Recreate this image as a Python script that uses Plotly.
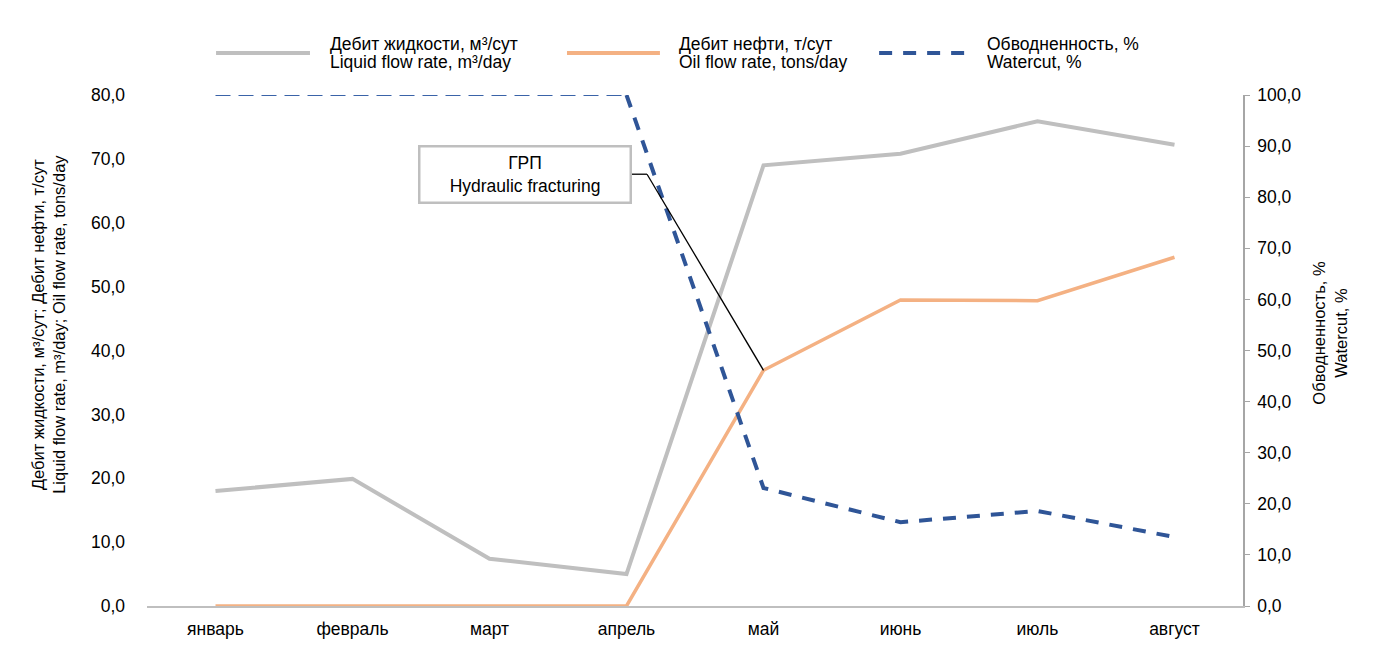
import plotly.graph_objects as go

months = ["январь", "февраль", "март", "апрель", "май", "июнь", "июль", "август"]
liquid_rate = [18.0, 19.9, 7.4, 5.0, 69.0, 70.8, 75.9, 72.2]
oil_rate = [0.0, 0.0, 0.0, 0.0, 36.9, 47.9, 47.8, 54.6]
watercut = [100.0, 100.0, 100.0, 100.0, 23.1, 16.4, 18.6, 13.5]

left_ticks = [0, 10, 20, 30, 40, 50, 60, 70, 80]
right_ticks = [0, 10, 20, 30, 40, 50, 60, 70, 80, 90, 100]

GRAY = "#bfbfbf"
ORANGE = "#f4b183"
BLUE = "#2f5597"
FONT = "Liberation Sans, Arial, sans-serif"
FS = 17.5
THICK_DASH = "13px,11px"

legend_items = [
    ("Дебит жидкости, м³/сут", "Liquid flow rate, m³/day", GRAY, "solid", 0.063, 0.1487, 0.165),
    ("Дебит нефти, т/сут", "Oil flow rate, tons/day", ORANGE, "solid", 0.3832, 0.468, 0.4836),
    ("Обводненность, %", "Watercut, %", BLUE, THICK_DASH, 0.668, 0.7555, 0.7646),
]


def fmt(v):
    return f"{v:.1f}".replace(".", ",")


fig = go.Figure()
fig.add_trace(go.Scatter(x=months, y=liquid_rate, mode="lines",
                         line=dict(color=GRAY, width=4), name="liquid"))
fig.add_trace(go.Scatter(x=months, y=oil_rate, mode="lines",
                         line=dict(color=ORANGE, width=3.5), name="oil"))
# before the frac the watercut line is drawn thinner
fig.add_trace(go.Scatter(x=months[:4], y=watercut[:4], mode="lines", yaxis="y2",
                         line=dict(color="#3a63a8", width=1.8, dash="15px,8px"), name="wc0"))
fig.add_trace(go.Scatter(x=months[3:], y=watercut[3:], mode="lines", yaxis="y2",
                         line=dict(color=BLUE, width=4, dash=THICK_DASH), name="wc"))

shapes = []
annotations = []

# leader line from the ГРП box to the May oil point
elbow_x, elbow_y = 3.15, 67.6
shapes.append(dict(type="line", xref="x", yref="y", x0=3.04, y0=elbow_y, x1=elbow_x, y1=elbow_y,
                   line=dict(color="black", width=1.3)))
shapes.append(dict(type="line", xref="x", yref="y", x0=elbow_x, y0=elbow_y, x1=4, y1=oil_rate[4],
                   line=dict(color="black", width=1.3)))
annotations.append(dict(x=2.259, y=elbow_y, xref="x", yref="y", showarrow=False,
                        text="ГРП<br>Hydraulic fracturing", align="center",
                        font=dict(size=FS, color="black", family=FONT),
                        bordercolor=GRAY, borderwidth=2.5, bgcolor="white",
                        width=207, height=52))

# legend drawn by hand to keep Excel-like spacing
for ru, en, color, dash, x0, x1, xt in legend_items:
    shapes.append(dict(type="line", xref="paper", yref="paper", x0=x0, x1=x1,
                       y0=1.082, y1=1.082,
                       line=dict(color=color, width=4, dash=dash)))
    for text, y in ((ru, 1.0998), (en, 1.0646)):
        annotations.append(dict(x=xt, y=y, xref="paper", yref="paper", showarrow=False,
                                text=text, align="left", xanchor="left", yanchor="middle",
                                font=dict(size=FS, color="black", family=FONT)))

# axis titles
annotations.append(dict(x=-0.0895, y=0.552, xref="paper", yref="paper", showarrow=False,
                        xanchor="center", yanchor="middle",
                        text="Дебит жидкости, м³/сут; Дебит нефти, т/сут<br>"
                             "Liquid flow rate, m³/day; Oil flow rate, tons/day",
                        textangle=-90, align="center",
                        font=dict(size=16.5, color="black", family=FONT)))
annotations.append(dict(x=1.0794, y=0.535, xref="paper", yref="paper", showarrow=False,
                        xanchor="center", yanchor="middle",
                        text="Обводненность, %<br>Watercut, %",
                        textangle=-90, align="center",
                        font=dict(size=16.5, color="black", family=FONT)))

# page body has an 8px margin, so the figure is shrunk by that amount
fig.update_layout(
    width=1380, height=662,
    margin=dict(l=139, r=145, t=87, b=64),
    paper_bgcolor="white", plot_bgcolor="white",
    showlegend=False,
    font=dict(family=FONT, size=FS, color="black"),
    xaxis=dict(type="category", range=[-0.5, 7.5], showgrid=False, zeroline=False,
               showline=True, linecolor=GRAY, linewidth=2, ticks="",
               ticklabelstandoff=6, tickfont=dict(size=FS)),
    yaxis=dict(range=[0, 80], tickvals=left_ticks, ticktext=[fmt(v) for v in left_ticks],
               showgrid=False, zeroline=False, showline=False, ticks="",
               ticklabelstandoff=21, tickfont=dict(size=FS)),
    yaxis2=dict(range=[0, 100], overlaying="y", side="right",
                tickvals=right_ticks, ticktext=[fmt(v) for v in right_ticks],
                showgrid=False, zeroline=False, showline=True, linecolor="#a6a6a6",
                linewidth=1.5, ticks="outside", ticklen=5, tickcolor="#a6a6a6",
                ticklabelstandoff=4, tickfont=dict(size=FS)),
    shapes=shapes,
    annotations=annotations,
)

fig.write_html("out.html")
